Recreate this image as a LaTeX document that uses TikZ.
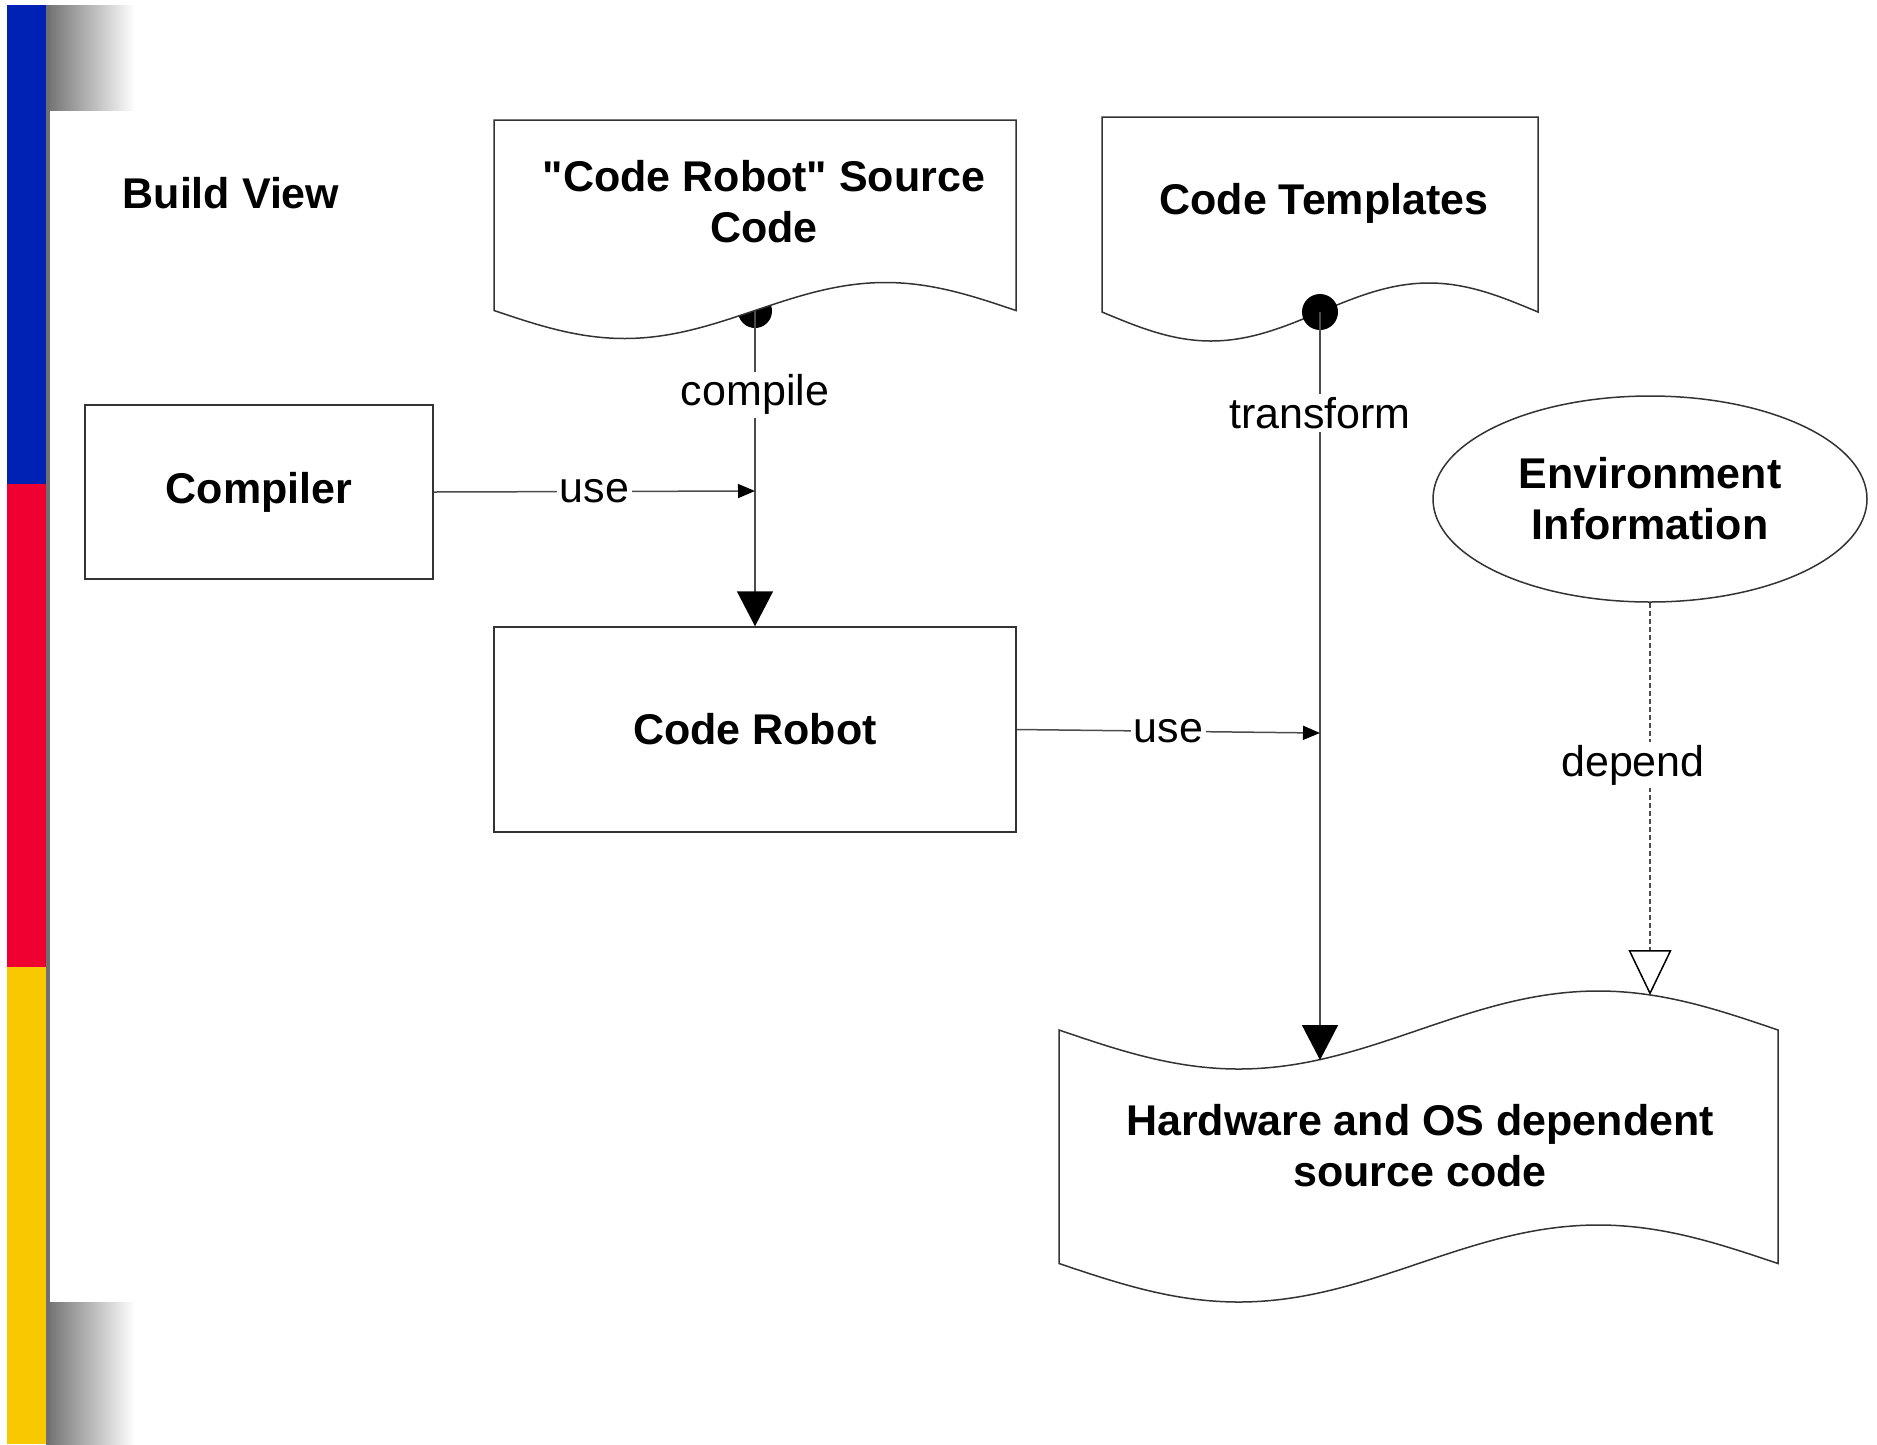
\documentclass[tikz,border=0pt]{standalone}
\usepackage{fontspec}
\setmainfont{Liberation Sans}
\newfontfamily\plainsans{Liberation Sans}
\usetikzlibrary{arrows.meta,shapes.geometric}
\definecolor{barblue}{RGB}{0,34,180}
\definecolor{barred}{RGB}{240,0,48}
\definecolor{baryellow}{RGB}{248,200,0}
\definecolor{stripgray}{RGB}{112,112,112}
\begin{document}
\begin{tikzpicture}[x=1pt,y=-1pt,
  boldtext/.style={font=\plainsans\fontsize{43}{51}\selectfont\bfseries, align=center},
  lbl/.style={font=\plainsans\fontsize{43}{51}\selectfont, fill=white, inner sep=3pt},
  shapeline/.style={draw=black!80, line width=1.5pt},
  conn/.style={draw=black!70, line width=1.5pt},
  bigtip/.style={-{Triangle[length=35pt,width=36pt,color=black]}},
  smalltip/.style={-{Triangle[length=17pt,width=14pt,color=black]}},
  opentip/.style={-{Triangle[color=black,fill=white,length=45pt,width=43pt]}},
  boxnode/.style={shapeline, fill=white, rectangle, inner sep=0pt, boldtext}
]
\useasboundingbox (0,0) rectangle (1877,1444);
% side bars
\fill[barblue] (7,5) rectangle (46,484);
\fill[barred] (7,484) rectangle (46,967);
\fill[baryellow] (7,967) rectangle (46,1444);
\shade[left color=stripgray, right color=white] (46,5) rectangle (135,110);
\shade[left color=stripgray, right color=white] (46,1302) rectangle (135,1444);
\fill[stripgray] (46,5) rectangle (50,1444);

\node[boldtext] (title) at (231,193) {Build View};

% Code Robot source document (dot behind it)
\coordinate (srcdot) at (755,311);
\fill[black] (srcdot) circle (17pt);
\draw[shapeline, fill=white] (494,310.5) -- (494,120) -- (1016,120) -- (1016,310.5)
  sin (885.5,282.5) cos (755,310.5) sin (624.5,338.5) cos (494,310.5) -- cycle;
\node[boldtext] (srctext) at (764,202) {"Code Robot" Source\\Code};

% Code Templates document
\draw[shapeline, fill=white] (1102,312) -- (1102,117) -- (1538,117) -- (1538,312)
  sin (1429,283) cos (1320,312) sin (1211,341) cos (1102,312) -- cycle;
\node[boldtext] (tpltext) at (1324,203) {Code Templates};
\coordinate (tpldot) at (1320,312);
\fill[black] (tpldot) circle (18pt);

% Hardware document
\draw[shapeline, fill=white] (1059,1030) sin (1238.75,1069) cos (1418.5,1030)
  sin (1598.25,991) cos (1778,1030) -- (1778,1263.5)
  sin (1598.25,1225) cos (1418.5,1263.5) sin (1238.75,1302) cos (1059,1263.5) -- cycle;
\node[boldtext] (hwtext) at (1420,1146) {Hardware and OS dependent\\source code};

% boxes
\node[boxnode, minimum width=348pt, minimum height=174pt] (compiler) at (259,492) {Compiler};
\node[boxnode, minimum width=522pt, minimum height=205pt] (robot) at (755,729.5) {Code Robot};

% ellipse
\node[shapeline, fill=white, ellipse, minimum width=434pt, minimum height=206pt, inner sep=0pt, boldtext] (env) at (1650,499) {Environment\\Information};

% connectors
\coordinate (usejoin) at (755,491);
\coordinate (tfjoin) at (1320,733);
\coordinate (hwtop) at (1320,1060);
\coordinate (envtip) at (1650,995);

\draw[conn, bigtip] (srcdot) -- node[lbl, pos=0.265] (compilelbl) {compile} (robot.north);
\draw[conn, smalltip] (compiler.east) -- node[lbl, pos=0.5] (uselbl1) {use} (usejoin);
\draw[conn, bigtip] (tpldot) -- node[lbl, pos=0.135] (transformlbl) {transform} (hwtop);
\draw[conn, smalltip] (robot.east) -- node[lbl, pos=0.5] (uselbl2) {use} (tfjoin);
\draw[conn, dash pattern=on 5pt off 3pt, opentip] (env.south) -- (envtip);
\node[lbl] (dependlbl) at (1633,765) {depend};
\end{tikzpicture}
\end{document}
